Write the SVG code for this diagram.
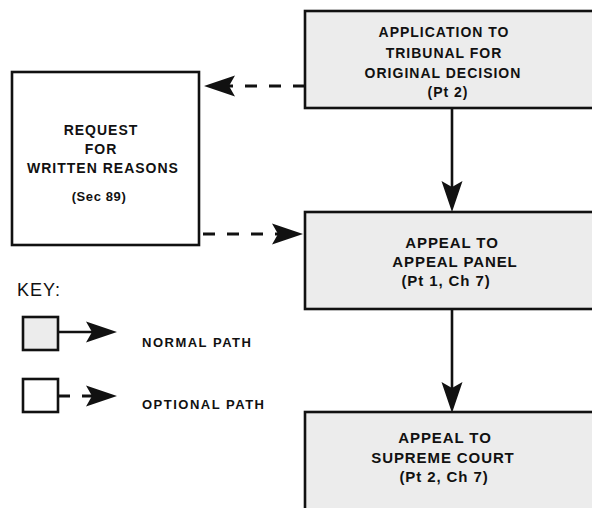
<svg xmlns="http://www.w3.org/2000/svg" width="592" height="508" viewBox="0 0 592 508">
<defs>
<style>
.box{stroke:#111;stroke-width:2.6;}
.grey{fill:#ececec;}
.white{fill:#ffffff;}
.t{font-family:"Liberation Sans",Arial,sans-serif;font-weight:bold;fill:#111;text-anchor:middle;}
.t14{font-size:14px;letter-spacing:1px;}
.t15{font-size:15px;letter-spacing:0.9px;}
.t13{font-size:13px;letter-spacing:0.6px;}
.conn{fill:none;stroke:#111;stroke-width:2.6;}
.dash{stroke-dasharray:12 12;stroke-width:3;}
.key{font-family:"Liberation Sans",Arial,sans-serif;fill:#111;}
</style>
<marker id="ah" viewBox="-8 -12 36 24" refX="0" refY="0" markerWidth="36" markerHeight="24" markerUnits="userSpaceOnUse" orient="auto">
<path d="M25,0 L-6,-10.5 L0,0 L-6,10.5 Z" fill="#111"/>
</marker>
</defs>
<rect width="592" height="508" fill="#ffffff"/>

<g id="connectors">
<path class="conn dash" d="M305,86 L229,86" marker-end="url(#ah)"/>
<path class="conn dash" d="M203,234 L278,234" marker-end="url(#ah)"/>
<path class="conn" d="M452,108 L452,187" marker-end="url(#ah)"/>
<path class="conn" d="M452,309 L452,388" marker-end="url(#ah)"/>
</g>

<g id="node-application">
<rect class="box grey" x="305" y="11" width="300" height="97"/>
<text class="t t14" x="444" y="37">APPLICATION TO</text>
<text class="t t14" x="444" y="57.5">TRIBUNAL FOR</text>
<text class="t t14" x="443" y="78">ORIGINAL DECISION</text>
<text class="t t14" x="448" y="97">(Pt 2)</text>
</g>

<g id="node-request">
<rect class="box white" x="12" y="72" width="187" height="173"/>
<text class="t t14" x="101" y="135">REQUEST</text>
<text class="t t14" x="101" y="154">FOR</text>
<text class="t t14" x="103" y="173">WRITTEN REASONS</text>
<text class="t t13" x="99" y="201">(Sec 89)</text>
</g>

<g id="node-appeal-panel">
<rect class="box grey" x="305" y="212" width="300" height="97"/>
<text class="t t15" x="452" y="248">APPEAL TO</text>
<text class="t t15" x="455" y="267">APPEAL PANEL</text>
<text class="t t15" x="446" y="286">(Pt 1, Ch 7)</text>
</g>

<g id="node-supreme-court">
<rect class="box grey" x="305" y="412" width="300" height="110"/>
<text class="t t15" x="445" y="443">APPEAL TO</text>
<text class="t t15" x="443" y="463">SUPREME COURT</text>
<text class="t t15" x="444" y="482">(Pt 2, Ch 7)</text>
</g>

<g id="key">
<text class="key" x="17" y="296" font-size="18" letter-spacing="1">KEY:</text>
<rect class="box grey" x="23" y="317" width="35" height="33"/>
<path class="conn" d="M58,332 L92,332" marker-end="url(#ah)"/>
<text class="key" x="142" y="347" font-size="13" font-weight="bold" letter-spacing="1.5">NORMAL PATH</text>
<rect class="box white" x="23" y="379" width="35" height="33"/>
<path class="conn dash" d="M58,396 L92,396" marker-end="url(#ah)"/>
<text class="key" x="142" y="409" font-size="13" font-weight="bold" letter-spacing="1.5">OPTIONAL PATH</text>
</g>
</svg>
